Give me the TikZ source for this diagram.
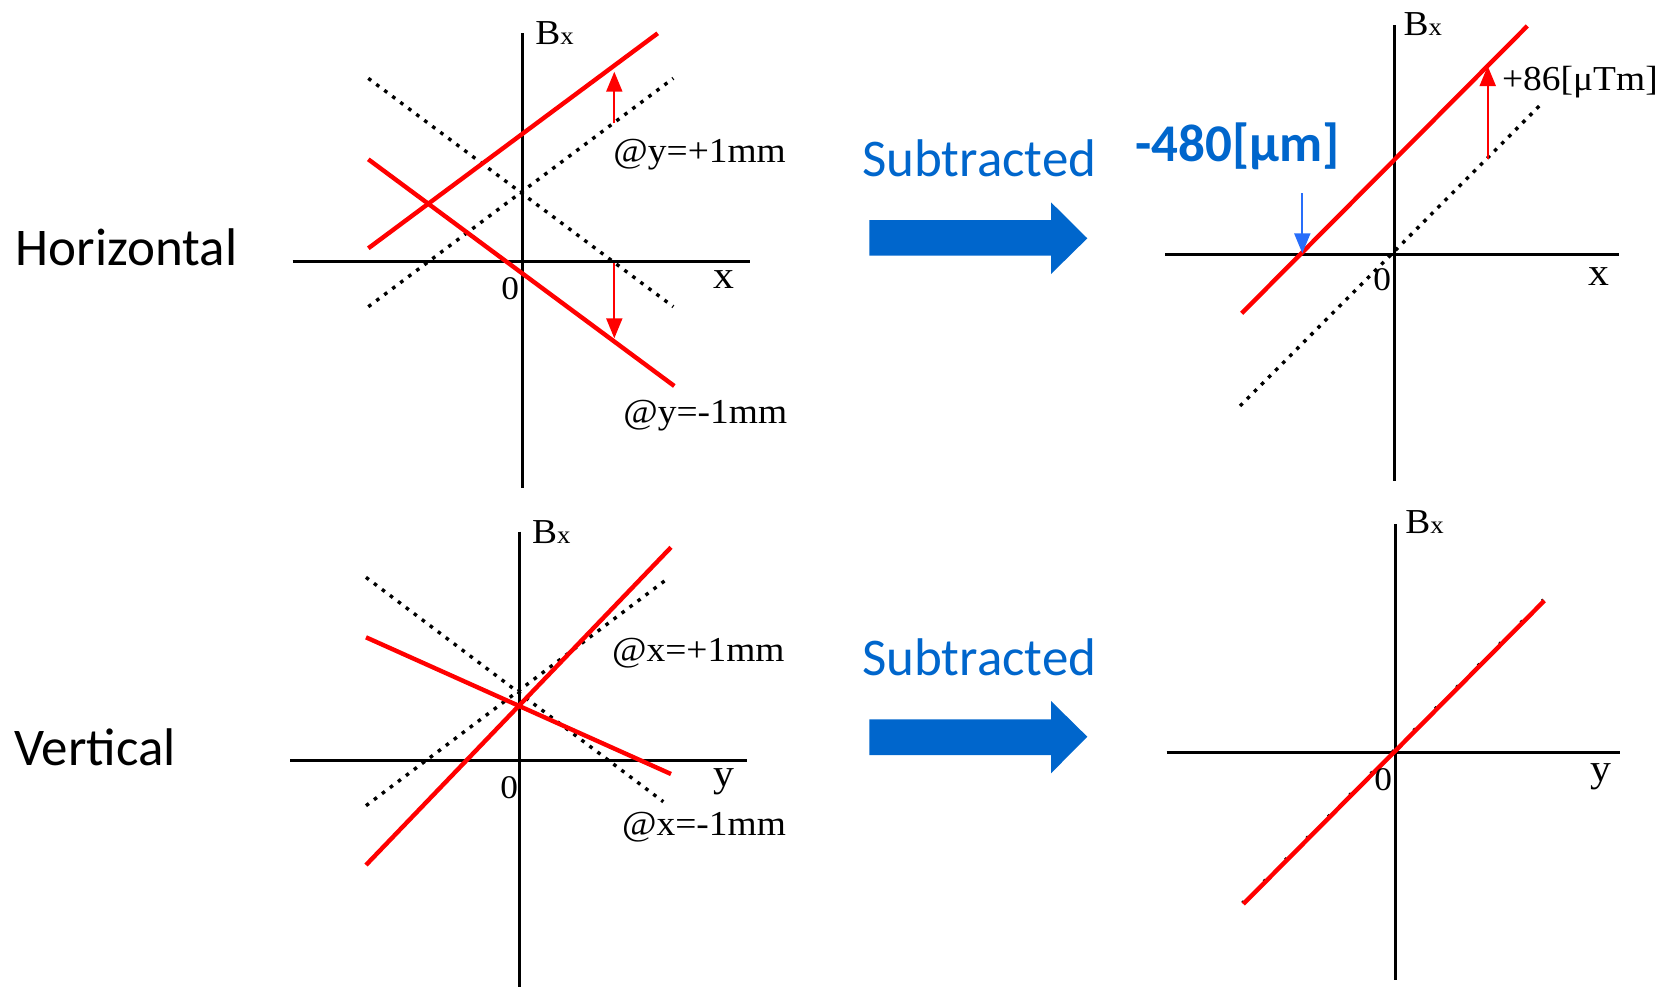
\documentclass[tikz,border=0pt]{standalone}
\usepackage{fontspec}
\setmainfont{Carlito}
\newfontfamily\tnr[FakeStretch=1.07]{Liberation Serif}
\newfontfamily\calfont{Carlito}
\usetikzlibrary{arrows.meta}
\definecolor{pblue}{RGB}{0,102,204}
\definecolor{lblue}{RGB}{40,110,250}
\definecolor{pred}{RGB}{255,0,0}
\begin{document}
\begin{tikzpicture}[x=0.5pt,y=-0.5pt,
  axis/.style={line width=1.5pt,black},
  dotline/.style={line width=1.7pt,black,dash pattern=on 1.8pt off 3.2pt},
  redline/.style={line width=2.2pt,pred},
  redarrow/.style={line width=1pt,pred,-{Triangle[length=10pt,width=8pt]}},
  bluearrow/.style={line width=1pt,lblue,-{Triangle[length=10pt,width=8pt]}},
  bigarrow/.style={fill=pblue,draw=none},
  lbl/.style={inner sep=0pt,anchor=base west},
  tlab/.style={lbl,font=\tnr\fontsize{17.5}{20}\selectfont},
  axlab/.style={lbl,font=\tnr\fontsize{19.5}{22}\selectfont},
  zlab/.style={lbl,font=\tnr\fontsize{16.5}{19}\selectfont},
  rowlab/.style={lbl,font=\calfont\fontsize{26.5}{30}\selectfont},
  sublab/.style={lbl,text=pblue,font=\calfont\fontsize{26.5}{30}\selectfont}]
\useasboundingbox (0,0) rectangle (1668,987);
\newcommand{\bxlabel}{B{\fontsize{12.5}{14}\selectfont x}}

% ---------- row labels ----------
\node[rowlab] (horiz) at (15.5,265) {Horizontal};
\node[rowlab] (vert) at (14,765) {Vertical};

% ---------- top-left panel ----------
\coordinate (tlxa) at (292.7,261.7); \coordinate (tlxb) at (750,261.7);
\coordinate (tlya) at (522.7,33); \coordinate (tlyb) at (522.7,488);
\draw[axis] (tlxa) -- (tlxb);
\draw[axis] (tlya) -- (tlyb);
\coordinate (tld1a) at (368.3,306.7); \coordinate (tld1b) at (673.3,78.3);
\coordinate (tld2a) at (368.3,78.3); \coordinate (tld2b) at (673.3,306.7);
\draw[dotline] (tld1a) -- (tld1b);
\draw[dotline] (tld2a) -- (tld2b);
\coordinate (tlr1a) at (368.3,248.3); \coordinate (tlr1b) at (657.7,33.3);
\coordinate (tlr2a) at (368.3,159.3); \coordinate (tlr2b) at (674.3,386);
\draw[redline] (tlr1a) -- (tlr1b);
\draw[redline] (tlr2a) -- (tlr2b);
\coordinate (tlua) at (614.3,123.3); \coordinate (tlub) at (614.3,71.7);
\coordinate (tlda) at (614.3,263.3); \coordinate (tldb) at (614.3,338.3);
\draw[redarrow] (tlua) -- (tlub);
\draw[redarrow] (tlda) -- (tldb);
\node[tlab] (tlbx) at (535,44) {\bxlabel};
\node[zlab] (tlzero) at (501,299) {0};
\node[axlab] (tlx) at (713,288) {x};
\node[tlab] (tlyp) at (613,162) {@y=+1mm};
\node[tlab] (tlym) at (623,423) {@y=-1mm};

% ---------- top middle ----------
\node[sublab] (sub1) at (861.7,176.7) {Subtracted};
\fill[bigarrow] (869.3,220) -- (1051,220) -- (1051,202.3) -- (1087.3,238.3)
  -- (1051,274) -- (1051,255.7) -- (869.3,255.7) -- cycle;

% ---------- top-right panel ----------
\coordinate (trxa) at (1165,254); \coordinate (trxb) at (1619,254);
\coordinate (trya) at (1394,25); \coordinate (tryb) at (1394,480.7);
\draw[axis] (trxa) -- (trxb);
\draw[axis] (trya) -- (tryb);
\coordinate (trda) at (1240,406); \coordinate (trdb) at (1539.3,106);
\draw[dotline] (trda) -- (trdb);
\coordinate (trra) at (1241.7,313.3); \coordinate (trrb) at (1527.3,26);
\draw[redline] (trra) -- (trrb);
\coordinate (trua) at (1487.7,159.3); \coordinate (trub) at (1487.7,66);
\draw[redarrow] (trua) -- (trub);
\coordinate (trba) at (1302.3,193.3); \coordinate (trbb) at (1302.3,253.3);
\draw[bluearrow] (trba) -- (trbb);
\node[tlab] (trbx) at (1403.3,35) {\bxlabel};
\node[zlab] (trzero) at (1373,290) {0};
\node[axlab] (trx) at (1588.3,285) {x};
\node[tlab] (trval) at (1501.7,90.7) {+86[μTm]};
\node[lbl,text=pblue,font=\calfont\bfseries\fontsize{26.5}{30}\selectfont] (trshift) at (1135,161.7) {-480[μm]};

% ---------- bottom-left panel ----------
\coordinate (blxa) at (290,760); \coordinate (blxb) at (746.7,760);
\coordinate (blya) at (519.3,531.7); \coordinate (blyb) at (519.3,986.7);
\draw[axis] (blxa) -- (blxb);
\draw[axis] (blya) -- (blyb);
\coordinate (bld1a) at (366,805.7); \coordinate (bld1b) at (669.3,577.3);
\coordinate (bld2a) at (366,577.3); \coordinate (bld2b) at (663.3,801.7);
\draw[dotline] (bld1a) -- (bld1b);
\draw[dotline] (bld2a) -- (bld2b);
\coordinate (blr1a) at (366,865); \coordinate (blr1b) at (671,547.3);
\coordinate (blr2a) at (366,637.3); \coordinate (blr2b) at (671,774);
\draw[redline] (blr1a) -- (blr1b);
\draw[redline] (blr2a) -- (blr2b);
\node[tlab] (blbx) at (531.7,543.3) {\bxlabel};
\node[zlab] (blzero) at (500,798.3) {0};
\node[axlab] (bly) at (713,786.7) {y};
\node[tlab] (blxp) at (611.7,661.7) {@x=+1mm};
\node[tlab] (blxm) at (621.7,835) {@x=-1mm};

% ---------- bottom middle ----------
\node[sublab] (sub2) at (861.7,675) {Subtracted};
\fill[bigarrow] (869.3,719.3) -- (1051,719.3) -- (1051,701) -- (1087.3,736.7)
  -- (1051,773.3) -- (1051,755) -- (869.3,755) -- cycle;

% ---------- bottom-right panel ----------
\coordinate (brxa) at (1166.7,752.7); \coordinate (brxb) at (1620,752.7);
\coordinate (brya) at (1395,524); \coordinate (bryb) at (1395,980);
\draw[axis] (brxa) -- (brxb);
\draw[axis] (brya) -- (bryb);
\coordinate (brda) at (1242.3,903) ; \coordinate (brdb) at (1543.3,599.7);
\draw[line width=1.5pt,black,dash pattern=on 1.2pt off 14pt] (brda) -- (brdb);
\coordinate (brra) at (1243.3,904); \coordinate (brrb) at (1544.3,600.7);
\draw[redline] (brra) -- (brrb);
\node[tlab] (brbx) at (1405,533.3) {\bxlabel};
\node[zlab] (brzero) at (1374,790) {0};
\node[axlab] (bry) at (1590,781.7) {y};
\end{tikzpicture}
\end{document}
